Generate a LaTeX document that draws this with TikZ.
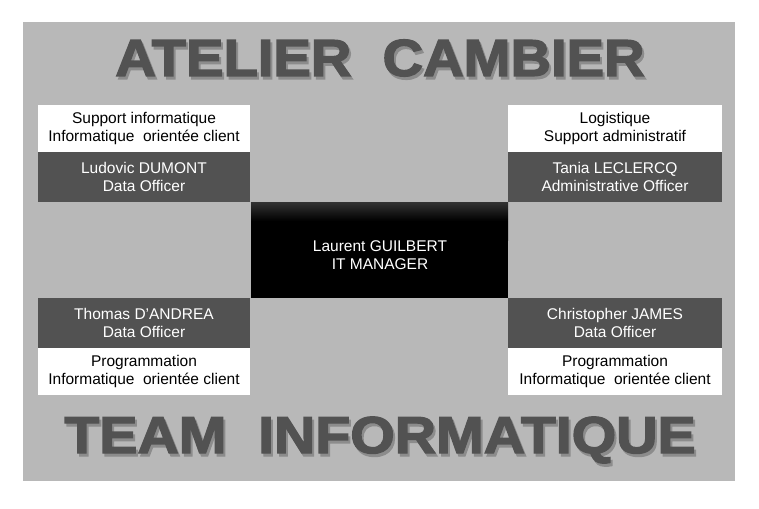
\documentclass[tikz,border=0pt]{standalone}
\usepackage{fontspec}
\setmainfont{Liberation Sans}
\newfontfamily\heavy[FakeBold=2.5]{Liberation Sans Bold}
\begin{document}
\begin{tikzpicture}[x=1pt,y=-1pt,
 txt/.style={font=\fontsize{15.5}{18}\selectfont,align=center,inner sep=0},
 wbox/.style={fill=white},
 dbox/.style={fill=black!68},
 title/.style={font=\fontsize{52}{60}\heavy\selectfont,text=black!68,inner sep=0}]
\useasboundingbox (0,0) rectangle (759,508);
\fill[black!28] (23,22) rectangle (735,481);
% boxes
\fill[wbox] (38,105) rectangle (250,152);
\fill[dbox] (38,152) rectangle (250,202);
\fill[wbox] (508,105) rectangle (722,152);
\fill[dbox] (508,152) rectangle (722,202);
\fill[dbox] (38,298) rectangle (250,348);
\fill[wbox] (38,348) rectangle (250,395);
\fill[dbox] (508,298) rectangle (722,348);
\fill[wbox] (508,348) rectangle (722,395);
\shade[top color=black!80,bottom color=black,middle color=black] (251,202) rectangle (508,240);
\fill[black] (251,240) rectangle (508,298);
% texts
\node[txt] (s1) at (144,128) {Support informatique\\Informatique\ \ orientée client};
\node[txt,text=white] (p1) at (144,177) {Ludovic DUMONT\\Data Officer};
\node[txt] (s2) at (615,128) {Logistique\\Support administratif};
\node[txt,text=white] (p2) at (615,177) {Tania LECLERCQ\\Administrative Officer};
\node[txt,text=white] (c) at (380,255) {Laurent GUILBERT\\IT MANAGER};
\node[txt,text=white] (p3) at (144,323) {Thomas D’ANDREA\\Data Officer};
\node[txt] (s3) at (144,371) {Programmation\\Informatique\ \ orientée client};
\node[txt,text=white] (p4) at (615,323) {Christopher JAMES\\Data Officer};
\node[txt] (s4) at (615,371) {Programmation\\Informatique\ \ orientée client};
\node[title,text=black!45,xscale=1.08] at (382,61) {ATELIER\ \ CAMBIER};
\node[title,xscale=1.08] (t1) at (380,58) {ATELIER\ \ CAMBIER};
\node[title,text=black!45,xscale=1.1] at (382,443) {TEAM\ \ INFORMATIQUE};
\node[title,xscale=1.1] (t2) at (380,440) {TEAM\ \ INFORMATIQUE};
\end{tikzpicture}
\end{document}
